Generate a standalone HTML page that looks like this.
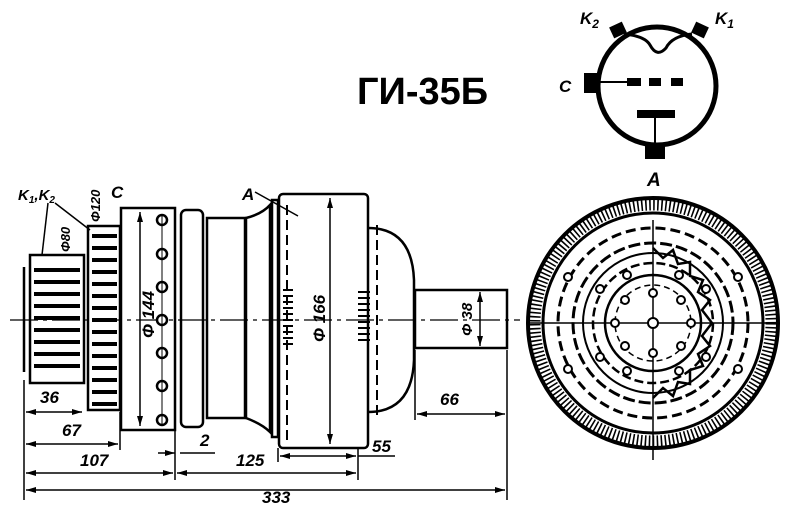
<!DOCTYPE html>
<html><head><meta charset="utf-8"><style>
html,body{margin:0;padding:0;background:#fff;width:790px;height:516px;overflow:hidden}
svg{display:block}
text{font-family:"Liberation Sans",sans-serif;font-style:italic;font-weight:bold;fill:#000}
</style></head><body>
<svg width="790" height="516" viewBox="0 0 790 516">
<defs>
<marker id="ar" markerWidth="10" markerHeight="6" refX="10" refY="3" orient="auto-start-reverse" markerUnits="userSpaceOnUse"><path d="M0,0 L10,3 L0,6z" fill="#000"/></marker>
</defs>
<!-- title -->
<text x="357" y="104" style="font-style:normal;font-weight:bold;font-size:38px">ГИ-35Б</text>
<!-- symbol -->
<g stroke="#000" fill="none">
<circle cx="657" cy="86" r="59" stroke-width="5"/>
<path d="M624,34 Q645,36 650,45 Q657,58 666,48 Q672,36 692,34" stroke-width="3"/>
<line x1="600" y1="82" x2="627" y2="82" stroke-width="2"/>
<line x1="655" y1="115" x2="655" y2="148" stroke-width="2"/>
</g>
<g fill="#000">
<rect x="611" y="24" width="14" height="12" transform="rotate(-25 618 30)"/>
<rect x="693" y="24" width="14" height="12" transform="rotate(25 700 30)"/>
<rect x="584" y="73" width="16" height="20"/>
<rect x="627" y="78" width="14" height="8"/><rect x="649" y="78" width="12" height="8"/><rect x="671" y="78" width="12" height="8"/>
<rect x="637" y="110" width="38" height="8"/>
<rect x="645" y="146" width="20" height="13"/>
</g>
<text x="580" y="24" font-size="17">K<tspan font-size="12" dy="4">2</tspan></text>
<text x="715" y="24" font-size="17">K<tspan font-size="12" dy="4">1</tspan></text>
<text x="559" y="92" font-size="17">C</text>
<text x="647" y="186" font-size="19">A</text>

<!-- main tube -->
<g stroke="#000" fill="none" stroke-width="2.5">
<line x1="24" y1="267" x2="24" y2="372"/>
<rect x="30" y="255" width="54" height="128"/>
<rect x="88" y="226" width="32" height="184"/>
<rect x="121" y="208" width="54" height="222"/>
<rect x="181" y="210" width="22" height="217" rx="5"/>
<rect x="207" y="218" width="38" height="200"/>
<path d="M246,218 Q262,214 270,205 L270,432 Q262,424 246,418z"/>
<rect x="272" y="200" width="6" height="237"/>
<rect x="279" y="194" width="89" height="254" rx="4"/>
<path d="M368,228 Q412,228 414,280 L414,360 Q412,412 368,412"/>
<rect x="415" y="290" width="92" height="58"/>
</g>
<!-- fins -->
<g stroke="#000" stroke-width="4">
<line x1="34" y1="270" x2="80" y2="270"/><line x1="34" y1="282" x2="80" y2="282"/><line x1="34" y1="294" x2="80" y2="294"/><line x1="34" y1="306" x2="80" y2="306"/><line x1="34" y1="318" x2="80" y2="318"/><line x1="34" y1="330" x2="80" y2="330"/><line x1="34" y1="342" x2="80" y2="342"/><line x1="34" y1="354" x2="80" y2="354"/><line x1="34" y1="366" x2="80" y2="366"/>
<line x1="92" y1="236" x2="117" y2="236"/><line x1="92" y1="248" x2="117" y2="248"/><line x1="92" y1="260" x2="117" y2="260"/><line x1="92" y1="272" x2="117" y2="272"/><line x1="92" y1="284" x2="117" y2="284"/><line x1="92" y1="296" x2="117" y2="296"/><line x1="92" y1="308" x2="117" y2="308"/><line x1="92" y1="320" x2="117" y2="320"/><line x1="92" y1="332" x2="117" y2="332"/><line x1="92" y1="344" x2="117" y2="344"/><line x1="92" y1="356" x2="117" y2="356"/><line x1="92" y1="368" x2="117" y2="368"/><line x1="92" y1="380" x2="117" y2="380"/><line x1="92" y1="392" x2="117" y2="392"/><line x1="92" y1="404" x2="117" y2="404"/>
</g>
<g stroke="#000" stroke-width="2">
<line x1="283" y1="290" x2="293" y2="290"/><line x1="283" y1="296" x2="293" y2="296"/><line x1="283" y1="302" x2="293" y2="302"/><line x1="283" y1="308" x2="293" y2="308"/><line x1="283" y1="314" x2="293" y2="314"/><line x1="283" y1="320" x2="293" y2="320"/><line x1="283" y1="326" x2="293" y2="326"/><line x1="283" y1="332" x2="293" y2="332"/><line x1="283" y1="338" x2="293" y2="338"/><line x1="283" y1="344" x2="293" y2="344"/>
<line x1="358" y1="292" x2="370" y2="292"/><line x1="358" y1="298" x2="370" y2="298"/><line x1="358" y1="304" x2="370" y2="304"/><line x1="358" y1="310" x2="370" y2="310"/><line x1="358" y1="316" x2="370" y2="316"/><line x1="358" y1="322" x2="370" y2="322"/><line x1="358" y1="328" x2="370" y2="328"/><line x1="358" y1="334" x2="370" y2="334"/><line x1="358" y1="340" x2="370" y2="340"/>
</g>
<g stroke="#000" stroke-width="2" stroke-dasharray="10 5" fill="none">
<line x1="287" y1="205" x2="287" y2="440"/><line x1="377" y1="225" x2="377" y2="415"/>
<line x1="10" y1="320" x2="520" y2="320" stroke-width="1.2" stroke-dasharray="28 5 4 5"/>
</g>
<!-- holes on C disk -->
<g fill="#fff" stroke="#000" stroke-width="2.5">
<circle cx="162" cy="220" r="5"/><circle cx="162" cy="254" r="5"/><circle cx="162" cy="287" r="5"/><circle cx="162" cy="320" r="5"/><circle cx="162" cy="353" r="5"/><circle cx="162" cy="386" r="5"/><circle cx="162" cy="420" r="5"/>
</g>
<line x1="162" y1="215" x2="162" y2="425" stroke="#000" stroke-width="1"/>
<!-- dimensions -->
<g stroke="#000" stroke-width="1.5" fill="none">
<line x1="140" y1="212" x2="140" y2="426" marker-start="url(#ar)" marker-end="url(#ar)"/>
<line x1="330" y1="198" x2="330" y2="444" marker-start="url(#ar)" marker-end="url(#ar)"/>
<line x1="480" y1="292" x2="480" y2="346" marker-start="url(#ar)" marker-end="url(#ar)"/>
<line x1="24" y1="380" x2="24" y2="500"/><line x1="507" y1="350" x2="507" y2="500"/>
<line x1="120" y1="412" x2="120" y2="450"/><line x1="175" y1="430" x2="175" y2="480"/>
<line x1="358" y1="448" x2="358" y2="480"/><line x1="415" y1="350" x2="415" y2="420"/>
<line x1="278" y1="448" x2="278" y2="462"/>
<line x1="26" y1="412" x2="82" y2="412" marker-start="url(#ar)" marker-end="url(#ar)"/>
<line x1="26" y1="444" x2="118" y2="444" marker-start="url(#ar)" marker-end="url(#ar)"/>
<line x1="26" y1="473" x2="173" y2="473" marker-start="url(#ar)" marker-end="url(#ar)"/>
<line x1="177" y1="473" x2="356" y2="473" marker-start="url(#ar)" marker-end="url(#ar)"/>
<line x1="26" y1="490" x2="505" y2="490" marker-start="url(#ar)" marker-end="url(#ar)"/>
<line x1="417" y1="414" x2="505" y2="414" marker-start="url(#ar)" marker-end="url(#ar)"/>
<line x1="280" y1="456" x2="356" y2="456" marker-start="url(#ar)" marker-end="url(#ar)"/>
<line x1="358" y1="456" x2="395" y2="456"/>
<line x1="158" y1="453" x2="175" y2="453" marker-end="url(#ar)"/><line x1="180" y1="453" x2="215" y2="453"/>
<line x1="255" y1="192" x2="298" y2="216"/>
<line x1="48" y1="203" x2="42" y2="255"/><line x1="55" y1="203" x2="90" y2="230"/>
</g>
<g font-size="17">
<text x="40" y="403">36</text><text x="62" y="436">67</text><text x="80" y="466">107</text>
<text x="236" y="466">125</text><text x="262" y="503">333</text><text x="440" y="405">66</text>
<text x="372" y="452">55</text><text x="200" y="446">2</text>
<text x="242" y="200">A</text><text x="111" y="198">C</text>
<text x="18" y="200" font-size="15">K<tspan font-size="10" dy="3">1</tspan><tspan dy="-3">,K</tspan><tspan font-size="10" dy="3">2</tspan></text>
<text transform="translate(154,338) rotate(-90)">Φ 144</text>
<text transform="translate(325,342) rotate(-90)">Φ 166</text>
<text transform="translate(472,336) rotate(-90)" font-size="15">Φ 38</text>
<text transform="translate(70,252) rotate(-90)" font-size="13">Φ80</text>
<text transform="translate(100,222) rotate(-90)" font-size="13">Φ120</text>
</g>
<!-- end view -->
<g stroke="#000" fill="none">
<circle cx="653" cy="323" r="125" stroke-width="4"/>
<circle cx="653" cy="323" r="118" stroke-width="11" stroke-dasharray="1.6 2.4"/>
<circle cx="653" cy="323" r="110" stroke-width="3"/>
<circle cx="653" cy="323" r="95" stroke-width="3" stroke-dasharray="10 5"/>
<circle cx="653" cy="323" r="80" stroke-width="3" stroke-dasharray="12 4"/>
<circle cx="653" cy="323" r="70" stroke-width="2"/>
<circle cx="653" cy="323" r="60" stroke-width="2.5" stroke-dasharray="9 4"/>
<circle cx="653" cy="323" r="48" stroke-width="2.5"/>
<circle cx="653" cy="323" r="38" stroke-width="1.5" stroke-dasharray="6 4"/>
<line x1="528" y1="323" x2="778" y2="323" stroke-width="1.5"/>
<line x1="653" y1="220" x2="653" y2="460" stroke-width="1.5"/>
<path d="M653,248 L663,258 L673,250 L678,264 L690,262 L690,276 L703,280 L698,292 L710,300 L702,310 L712,323 L702,336 L710,346 L698,354 L703,366 L690,370 L690,384 L678,382 L673,396 L663,388 L653,398" stroke-width="2.5"/>
</g>
<g fill="#fff" stroke="#000" stroke-width="2">
<circle cx="653" cy="323" r="5"/><circle cx="625" cy="300" r="4"/><circle cx="681" cy="300" r="4"/><circle cx="625" cy="346" r="4"/><circle cx="681" cy="346" r="4"/><circle cx="615" cy="323" r="4"/><circle cx="691" cy="323" r="4"/><circle cx="653" cy="293" r="4"/><circle cx="653" cy="353" r="4"/><circle cx="627" cy="275" r="4"/><circle cx="679" cy="275" r="4"/><circle cx="627" cy="371" r="4"/><circle cx="679" cy="371" r="4"/>
<circle cx="600" cy="289" r="4"/><circle cx="706" cy="289" r="4"/><circle cx="600" cy="357" r="4"/><circle cx="706" cy="357" r="4"/><circle cx="568" cy="277" r="4"/><circle cx="738" cy="277" r="4"/><circle cx="568" cy="369" r="4"/><circle cx="738" cy="369" r="4"/>
</g>
</svg>
</body></html>
